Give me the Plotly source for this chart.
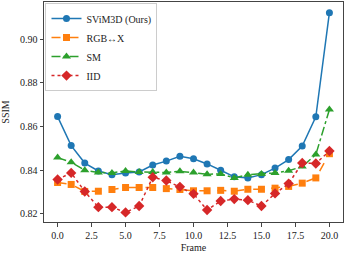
import plotly.graph_objects as go

frames = list(range(21))
svim3d = [0.8646, 0.8513, 0.8433, 0.8397, 0.8380, 0.8388, 0.8392, 0.8424, 0.8442, 0.8464, 0.8453,
          0.8429, 0.8400, 0.8370, 0.8365, 0.8380, 0.8410, 0.8449, 0.8511, 0.8645, 0.9122]
rgbx = [0.8344, 0.8335, 0.8303, 0.8304, 0.8312, 0.8321, 0.8321, 0.8321, 0.8316, 0.8312, 0.8306,
        0.8306, 0.8308, 0.8304, 0.8313, 0.8313, 0.8318, 0.8326, 0.8341, 0.8365, 0.8476]
sm = [0.8458, 0.8437, 0.8400, 0.8390, 0.8388, 0.8397, 0.8392, 0.8392, 0.8390, 0.8395, 0.8390,
      0.8382, 0.8383, 0.8365, 0.8380, 0.8383, 0.8388, 0.8398, 0.8417, 0.8472, 0.8678]
iid = [0.8358, 0.8388, 0.8303, 0.8231, 0.8231, 0.8207, 0.8236, 0.8368, 0.8353, 0.8324, 0.8292,
       0.8218, 0.8259, 0.8268, 0.8263, 0.8236, 0.8294, 0.8339, 0.8433, 0.8431, 0.8488]

x_tick_vals = [0, 2.5, 5, 7.5, 10, 12.5, 15, 17.5, 20]
x_tick_text = ["0.0", "2.5", "5.0", "7.5", "10.0", "12.5", "15.0", "17.5", "20.0"]
y_tick_vals = [0.82, 0.84, 0.86, 0.88, 0.90]
y_tick_text = ["0.82", "0.84", "0.86", "0.88", "0.90"]

series = [
    ("SViM3D (Ours)", svim3d, "#1f77b4", "solid", "circle", 7),
    ("RGB↔X", rgbx, "#ff7f0e", "dash", "square", 7),
    ("SM", sm, "#2ca02c", "dashdot", "triangle-up", 8),
    ("IID", iid, "#d62728", "dot", "diamond", 8),
]

fig = go.Figure()
for name, vals, color, dash, sym, size in series:
    fig.add_trace(go.Scatter(
        x=frames, y=vals, name=name, mode="lines+markers",
        line=dict(color=color, width=1.5, dash=dash),
        marker=dict(color=color, symbol=sym, size=size),
    ))

font = dict(family="Liberation Serif, DejaVu Serif, serif", size=10, color="#222")
axis_common = dict(
    showline=True, linecolor="#444", linewidth=1, mirror=True,
    ticks="outside", ticklen=3.5, tickcolor="#444", showgrid=False, zeroline=False,
    tickfont=font, automargin=False,
)
fig.update_layout(
    width=345, height=253,
    margin=dict(l=44, r=2, t=2, b=31),
    plot_bgcolor="white", paper_bgcolor="white",
    font=font,
    showlegend=True,
    legend=dict(x=0.005, y=0.995, xanchor="left", yanchor="top",
                bgcolor="rgba(255,255,255,0.8)", bordercolor="#ccc", borderwidth=1,
                font=dict(family="Liberation Serif, DejaVu Serif, serif", size=10, color="#222"),
                tracegroupgap=0, itemwidth=30),
    xaxis=dict(range=[-1, 21], tickvals=x_tick_vals, ticktext=x_tick_text,
               title=dict(text="Frame", font=font), **axis_common),
    yaxis=dict(range=[0.8163, 0.9171], tickvals=y_tick_vals, ticktext=y_tick_text,
               title=dict(text="SSIM", font=font), **axis_common),
)
fig.write_html("out.html", config={"displayModeBar": False},
               post_script="document.body.style.margin='0';")
